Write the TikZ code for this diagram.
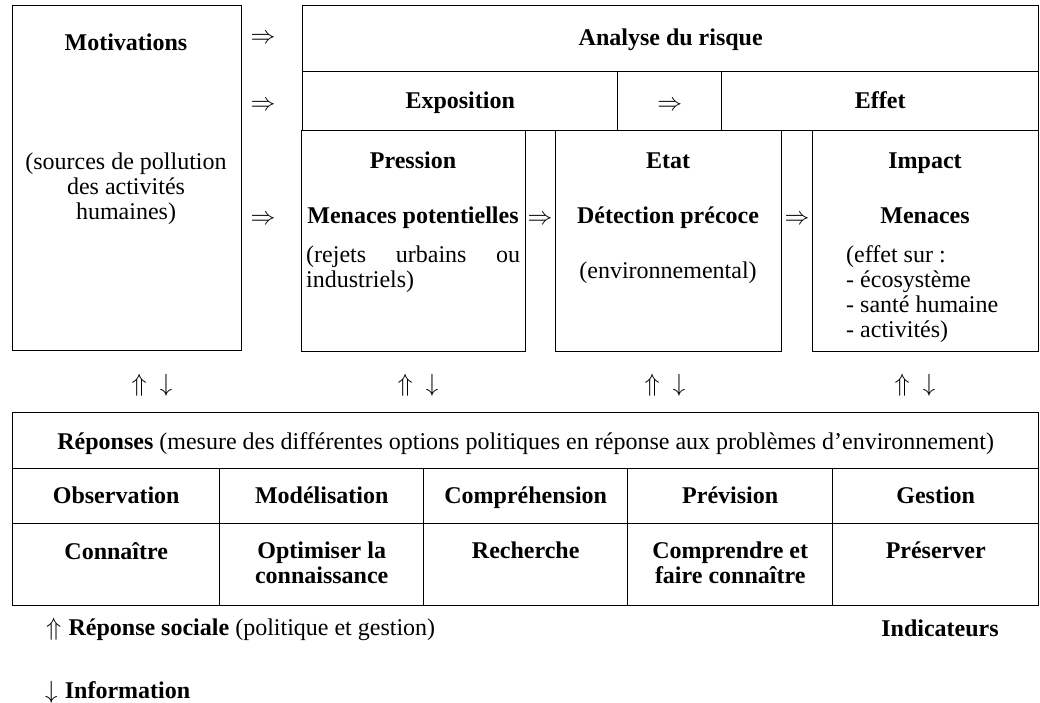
\documentclass[tikz,border=0pt]{standalone}
\usepackage{fontspec}
\setmainfont{Liberation Serif}
\usepackage{tikz}

\tikzset{
  cell/.style={draw, line width=1.4pt, inner sep=0pt, anchor=north west},
  titre/.style={font=\fontsize{24}{25}\selectfont\bfseries},
  texte/.style={font=\fontsize{24}{25}\selectfont, align=center},
  ligne/.style={text height=18pt, text depth=5pt},
  fleche/.style={font=\fontsize{24}{25}\selectfont, inner sep=0pt, ligne},
}

\begin{document}
\begin{tikzpicture}[x=1pt, y=-1pt, inner sep=0pt]
  \useasboundingbox (0,0) rectangle (1040,703);

  % Left column: motivations
  \node[cell, minimum width=229pt, minimum height=345pt] (Motiv) at (12,5) {};
  \node[titre, ligne] (tMotiv) at (126,44) {Motivations};
  \node[texte] (tSources) at (126,189) {(sources de pollution\\des activités\\humaines)};

  % Upper part: risk analysis, exposition and effect
  \node[cell, minimum width=736pt, minimum height=66pt] (Analyse) at (302,5) {};
  \node[titre, ligne] (tAnalyse) at (Analyse.center) {Analyse du risque};
  \node[cell, minimum width=315pt, minimum height=59pt] (Expo) at (302,71) {};
  \node[titre, ligne] (tExpo) at ([yshift=-1pt]Expo.center) {Exposition};
  \node[cell, minimum width=104pt, minimum height=59pt] (Lien) at (617,71) {};
  \node[fleche] (fLien) at ([yshift=-3pt]Lien.center) {$\Rightarrow$};
  \node[cell, minimum width=317pt, minimum height=59pt] (Effet) at (721,71) {};
  \node[titre, ligne] (tEffet) at ([yshift=-1pt]Effet.center) {Effet};

  % Pressure - state - impact
  \node[cell, minimum width=224pt, minimum height=221pt] (Pression) at (301,130) {};
  \node[titre, ligne] (tPression) at (413,162) {Pression};
  \node[titre, ligne] (tPotent) at (413,217) {Menaces potentielles};
  \node[texte, align=left, text width=214pt, anchor=north west] (tRejets) at (306,246)
    {\makebox[214pt]{(rejets\hfill urbains\hfill ou}\\industriels)};

  \node[cell, minimum width=226pt, minimum height=221pt] (Etat) at (555,130) {};
  \node[titre, ligne] (tEtat) at (668,162) {Etat};
  \node[titre, ligne] (tDetect) at (668,217) {Détection précoce};
  \node[texte, ligne] (tEnv) at (668,272) {(environnemental)};

  \node[cell, minimum width=226pt, minimum height=221pt] (Impact) at (812,130) {};
  \node[titre, ligne] (tImpact) at (925,162) {Impact};
  \node[titre, ligne] (tMenaces) at (925,217) {Menaces};
  \node[texte, align=left, anchor=north west] (tEffets) at (846,245)
    {(effet sur :\\- écosystème\\- santé humaine\\- activités)};

  % Arrows between the boxes
  \node[fleche] (f1) at (263,37) {$\Rightarrow$};
  \node[fleche] (f2) at (263,104) {$\Rightarrow$};
  \node[fleche] (f3) at (263,218) {$\Rightarrow$};
  \node[fleche] (f4) at (540,218) {$\Rightarrow$};
  \node[fleche] (f5) at (797,218) {$\Rightarrow$};

  % Up and down arrows above the responses
  \node[fleche] (r1) at (152,385) {$\Uparrow$\hspace{0.55em}$\downarrow$};
  \node[fleche] (r2) at (418,385) {$\Uparrow$\hspace{0.55em}$\downarrow$};
  \node[fleche] (r3) at (665,385) {$\Uparrow$\hspace{0.55em}$\downarrow$};
  \node[fleche] (r4) at (915,385) {$\Uparrow$\hspace{0.55em}$\downarrow$};

  % Responses table
  \node[cell, minimum width=1026pt, minimum height=56pt] (Rep) at (12,412) {};
  \node[texte, ligne] (tRep) at ([yshift=-2pt]Rep.center) {\textbf{Réponses} (mesure des différentes options politiques en réponse aux problèmes d’environnement)};

  \node[cell, minimum width=207pt, minimum height=55pt] (Obs) at (12,468) {};
  \node[cell, minimum width=204pt, minimum height=55pt] (Mod) at (219,468) {};
  \node[cell, minimum width=204pt, minimum height=55pt] (Comp) at (423,468) {};
  \node[cell, minimum width=205pt, minimum height=55pt] (Prev) at (627,468) {};
  \node[cell, minimum width=206pt, minimum height=55pt] (Gest) at (832,468) {};
  \node[titre, ligne] (tObs) at ([yshift=-1pt]Obs.center) {Observation};
  \node[titre, ligne] (tMod) at ([yshift=-1pt]Mod.center) {Modélisation};
  \node[titre, ligne] (tComp) at ([yshift=-1pt]Comp.center) {Compréhension};
  \node[titre, ligne] (tPrev) at ([yshift=-1pt]Prev.center) {Prévision};
  \node[titre, ligne] (tGest) at ([yshift=-1pt]Gest.center) {Gestion};

  \node[cell, minimum width=207pt, minimum height=82pt] (Conn) at (12,523) {};
  \node[cell, minimum width=204pt, minimum height=82pt] (Optim) at (219,523) {};
  \node[cell, minimum width=204pt, minimum height=82pt] (Rech) at (423,523) {};
  \node[cell, minimum width=205pt, minimum height=82pt] (Compr) at (627,523) {};
  \node[cell, minimum width=206pt, minimum height=82pt] (Pres) at (832,523) {};
  \node[titre, align=center, anchor=north] (tConn) at ([yshift=-19pt]Conn.north) {Connaître};
  \node[titre, align=center, anchor=north] (tOptim) at ([yshift=-19pt]Optim.north) {Optimiser la\\connaissance};
  \node[titre, align=center, anchor=north] (tRech) at ([yshift=-19pt]Rech.north) {Recherche};
  \node[titre, align=center, anchor=north] (tCompr) at ([yshift=-19pt]Compr.north) {Comprendre et\\faire connaître};
  \node[titre, align=center, anchor=north] (tPres) at ([yshift=-19pt]Pres.north) {Préserver};

  % Legend
  \node[texte, ligne, anchor=west] (legSoc) at (46,629) {$\Uparrow$\hspace{0.3em}\textbf{Réponse sociale} (politique et gestion)};
  \node[titre, ligne] (legInd) at (940,630) {Indicateurs};
  \node[texte, ligne, anchor=west] (legInfo) at (45,692) {$\downarrow$\hspace{0.3em}\textbf{Information}};
\end{tikzpicture}
\end{document}
